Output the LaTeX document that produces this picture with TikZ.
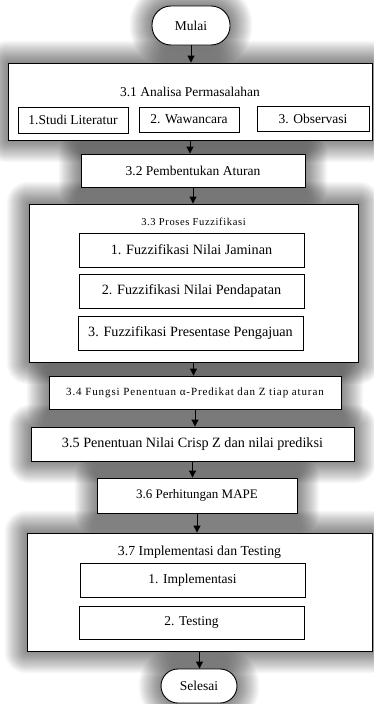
\documentclass[tikz,border=0pt]{standalone}
\usepackage{fontspec}
\setmainfont{Liberation Serif}
\newfontfamily\spacedA[LetterSpace=6]{Liberation Serif}
\newfontfamily\spacedB[LetterSpace=8]{Liberation Serif}
\usetikzlibrary{arrows.meta,backgrounds}
\tikzset{
  base/.style={draw=black, line width=0.9pt, fill=white, inner sep=0pt, align=center,
    font=\fontsize{13.5}{16}\selectfont},
  outer/.style={base},
  inner/.style={base},
  term/.style={outer, rounded corners=17pt},
  lbl/.style={inner sep=0pt, font=\fontsize{13.5}{16}\selectfont},
  arr/.style={draw=black, line width=1pt, -{Triangle[length=7pt,width=7pt]}},
  glowlayer/.style={fill=black, fill opacity=0.024, draw=none},
}
\newcommand{\glowbox}[2]{%
  \foreach \k in {1,...,22}{%
    \fill[glowlayer, rounded corners={#2+\k*1pt}] ([shift={(-\k pt,-\k pt)}]#1.south west) rectangle ([shift={(\k pt,\k pt)}]#1.north east);
  }}
\begin{document}
\begin{tikzpicture}[x=1pt,y=-1pt]
\useasboundingbox (0,0) rectangle (373,704);
% terminals and outer boxes
\node[term, minimum width=78pt, minimum height=39pt, rounded corners=19pt] (mulai) at (191,25.5) {Mulai};
\node[outer, minimum width=364pt, minimum height=77pt] (b31) at (190,101.5) {};
\node[outer, minimum width=224pt, minimum height=33pt] (b32) at (193,170.5) {3.2 Pembentukan Aturan};
\node[outer, minimum width=329pt, minimum height=158pt] (b33) at (193.5,283) {};
\node[outer, minimum width=292pt, minimum height=33pt, font=\spacedB\fontsize{11}{13}\selectfont] (b34) at (195,392.5) {3.4 Fungsi Penentuan α-Predikat dan Z tiap aturan};
\node[outer, minimum width=323pt, minimum height=34pt, font=\fontsize{14.2}{16}\selectfont] (b35) at (192.5,444) {3.5 Penentuan Nilai Crisp Z dan nilai prediksi};
\node[outer, minimum width=200pt, minimum height=35pt, font=\fontsize{13}{16}\selectfont] (b36) at (197,495.5) {3.6 Perhitungan MAPE};
\node[outer, minimum width=345pt, minimum height=118pt] (b37) at (199.5,592) {};
\node[term, minimum width=76pt, minimum height=34pt] (selesai) at (199,686) {Selesai};
% glow behind the outer shapes
\begin{scope}[on background layer]
  \fill[white] (0,0) rectangle (373,704);
  \glowbox{mulai}{19pt}
  \glowbox{b31}{0pt}
  \glowbox{b32}{0pt}
  \glowbox{b33}{0pt}
  \glowbox{b34}{0pt}
  \glowbox{b35}{0pt}
  \glowbox{b36}{0pt}
  \glowbox{b37}{0pt}
  \glowbox{selesai}{17pt}
\end{scope}
% titles
\node[lbl] (t31) at (190,92) {3.1 Analisa Permasalahan};
\node[lbl, font=\spacedA\fontsize{10.5}{12}\selectfont] (t33) at (193.5,222) {3.3 Proses Fuzzifikasi};
\node[lbl, font=\fontsize{13.8}{16}\selectfont] (t37) at (199.5,552) {3.7 Implementasi dan Testing};
% inner boxes
\node[inner, minimum width=110pt, minimum height=26pt] (s1) at (73,120) {1.Studi Literatur};
\node[inner, minimum width=100pt, minimum height=25pt] (s2) at (189,119.5) {2. Wawancara};
\node[inner, minimum width=112pt, minimum height=25pt] (s3) at (313,119) {3. Observasi};
\node[inner, minimum width=225pt, minimum height=34pt, font=\fontsize{14.2}{16}\selectfont] (f1) at (191.5,250) {1. Fuzzifikasi Nilai Jaminan};
\node[inner, minimum width=225pt, minimum height=34pt, font=\fontsize{14.2}{16}\selectfont] (f2) at (191.5,291) {2. Fuzzifikasi Nilai Pendapatan};
\node[inner, minimum width=225pt, minimum height=34pt, font=\fontsize{14.2}{16}\selectfont] (f3) at (190.5,333) {3. Fuzzifikasi Presentase Pengajuan};
\node[inner, minimum width=225pt, minimum height=34pt] (i1) at (192.5,580) {1. Implementasi};
\node[inner, minimum width=225pt, minimum height=33pt] (i2) at (191.5,622.5) {2. Testing};
% connectors
\draw[arr] (mulai.south) -- (mulai.south |- b31.north);
\draw[arr] (b31.south) -- (b31.south |- b32.north);
\draw[arr] (b32.south) -- (b32.south |- b33.north);
\draw[arr] (b33.south) -- (b33.south |- b34.north);
\draw[arr] (b34.south) -- (b34.south |- b35.north);
\draw[arr] (b35.south) -- (b35.south |- b36.north);
\draw[arr] (b36.south) -- (b36.south |- b37.north);
\draw[arr] (b37.south) -- (b37.south |- selesai.north);
\end{tikzpicture}
\end{document}
